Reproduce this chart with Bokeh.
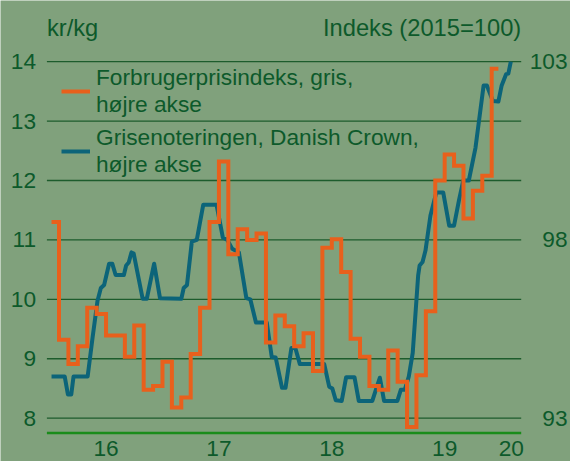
from bokeh.plotting import figure
from bokeh.models import Range1d, Label, Legend, LegendItem
from bokeh.embed import file_html
from bokeh.resources import INLINE

# ---------------- data ----------------
# Forbrugerprisindeks, gris (2015=100), monthly, Jan 2016 - Dec 2019 (right axis)
cpi_months = [f"{y}-{m:02d}" for y in (2016, 2017, 2018, 2019) for m in range(1, 13)]
cpi_index = [98.50, 95.20, 94.52, 95.02, 96.10, 95.92, 95.32, 95.32, 94.72, 95.60, 93.80, 93.90,
             94.58, 93.30, 93.58, 94.80, 96.10, 98.50, 100.20, 97.60, 98.30, 98.00, 98.18, 95.12,
             95.88, 95.58, 95.02, 95.38, 94.32, 97.78, 98.02, 97.10, 95.23, 94.72, 93.90, 93.80,
             94.90, 94.02, 92.75, 94.20, 96.00, 99.67, 100.40, 100.08, 98.60, 99.38, 99.80, 102.80]
cpi_first_obs = 2016.017
cpi_last_obs = 2019.976

# Grisenoteringen, Danish Crown (kr/kg), decimal year / value (left axis)
dc_year = [2016.017, 2016.134, 2016.162, 2016.192, 2016.212, 2016.337, 2016.381, 2016.424, 2016.454, 2016.483,
           2016.527, 2016.555, 2016.585, 2016.658, 2016.678, 2016.701, 2016.725, 2016.745, 2016.789, 2016.824,
           2016.861, 2016.926, 2016.978, 2017.167, 2017.188, 2017.217, 2017.260, 2017.304, 2017.361, 2017.479,
           2017.535, 2017.575, 2017.618, 2017.677, 2017.743, 2017.778, 2017.828, 2017.924, 2017.968, 2018.003,
           2018.059, 2018.090, 2018.142, 2018.177, 2018.217, 2018.433, 2018.477, 2018.505, 2018.535, 2018.588,
           2018.627, 2018.701, 2018.739, 2018.859, 2018.891, 2018.926, 2018.963, 2019.081, 2019.112, 2019.147,
           2019.182, 2019.217, 2019.243, 2019.265, 2019.278, 2019.304, 2019.330, 2019.374, 2019.426, 2019.487,
           2019.540, 2019.583, 2019.627, 2019.665, 2019.714, 2019.773, 2019.845, 2019.874, 2019.927, 2019.976,
           2020.005, 2020.044, 2020.064, 2020.086]
dc_kr = [8.70, 8.70, 8.40, 8.40, 8.70, 8.70, 9.36, 9.97, 10.19, 10.24,
         10.60, 10.60, 10.41, 10.41, 10.57, 10.62, 10.79, 10.77, 10.35, 10.01,
         10.01, 10.60, 10.02, 10.01, 10.19, 10.24, 10.97, 11.00, 11.59, 11.59,
         11.04, 11.00, 10.85, 10.79, 10.02, 10.00, 9.61, 9.61, 9.03, 9.02,
         8.51, 8.51, 9.18, 9.18, 8.91, 8.91, 8.53, 8.50, 8.30, 8.29,
         8.69, 8.69, 8.29, 8.29, 8.48, 8.68, 8.29, 8.29, 8.48, 8.48,
         8.70, 9.10, 9.80, 10.40, 10.57, 10.63, 10.82, 11.41, 11.80, 11.80,
         11.24, 11.24, 11.67, 12.00, 12.00, 12.55, 13.60, 13.60, 13.34, 13.33,
         13.60, 13.79, 13.80, 14.00]

left_ticks = [8, 9, 10, 11, 12, 13, 14]
right_ticks = [93, 98, 103]
year_label_pos = [2016.5, 2017.5, 2018.5, 2019.5, 2020.09]
year_labels = ["16", "17", "18", "19", "20"]

series_names = ["Forbrugerprisindeks, gris,\nhøjre akse",
                "Grisenoteringen, Danish Crown,\nhøjre akse"]

# ---------------- style / layout ----------------
BG = "#80a17c"
TXT = "#0d5a2b"
GRID = "#1d5c2c"
BASE = "#1a8c1a"
ORANGE = "#e8601c"
BLUE = "#0c6479"
FONT = "Liberation Sans"

W, H = 570, 461
PL, PR, PT, PB = 46.4, 520.7, 61.2, 432.5     # plot area in canvas pixels
X0, X1 = 2015.976, 2020.178                    # visible time span
Y0, Y1 = 7.75, 14.0                            # left axis span


def to_index(v):
    # left axis 8 -> 93, 14 -> 103
    return 93 + (v - 8) * 10 / 6


xs = (X1 - X0) / (PR - PL)
ys = (Y1 - Y0) / (PB - PT)
x_start, x_end = X0 - PL * xs, X1 + (W - PR) * xs
y_start, y_end = Y0 - (H - PB) * ys, Y1 + PT * ys

p = figure(width=W, height=H, x_range=Range1d(x_start, x_end), y_range=Range1d(y_start, y_end),
           x_axis_type=None, y_axis_type=None,
           output_backend="svg", toolbar_location=None, min_border=0,
           background_fill_color=BG, border_fill_color=BG, outline_line_color=None)
p.extra_y_ranges = {"idx": Range1d(to_index(y_start), to_index(y_end))}

# horizontal grid lines at the left-axis ticks, spanning the plot area only
p.segment(x0=[X0] * len(left_ticks), x1=[X1] * len(left_ticks), y0=left_ticks, y1=left_ticks,
          line_color=GRID, line_width=1.3)
p.segment(x0=[X0], x1=[X1], y0=[Y0], y1=[Y0], line_color=BASE, line_width=2.5)

# series
cpi_x = []
for s in cpi_months:
    yy, mm = int(s[:4]), int(s[5:])
    cpi_x.append(max(cpi_first_obs, yy + (mm - 1) / 12))
cpi_x = cpi_x + [cpi_last_obs]
cpi_y = cpi_index + [cpi_index[-1]]

r_blue = p.line(dc_year, dc_kr, line_color=BLUE, line_width=4, line_join="round")
r_orange = p.step(cpi_x, cpi_y, mode="after", y_range_name="idx",
                  line_color=ORANGE, line_width=4, line_join="miter")

TICK_FS = "22.7px"
TITLE_FS = "23.7px"

# left tick labels
for v in left_ticks:
    p.add_layout(Label(x=X0, x_offset=-10.8, y=v, text=str(v), text_align="right",
                       text_baseline="middle", text_font=FONT, text_font_size=TICK_FS,
                       text_color=TXT))
# right tick labels
for v in right_ticks:
    p.add_layout(Label(x=X1, x_offset=46.3, y=v, y_range_name="idx", text=str(v),
                       text_align="right", text_baseline="middle", text_font=FONT,
                       text_font_size=TICK_FS, text_color=TXT))
# x tick labels
for t, s in zip(year_label_pos, year_labels):
    p.add_layout(Label(x=t, y=Y0, y_offset=-15.5, text=s, text_align="center",
                       text_baseline="middle", text_font=FONT, text_font_size=TICK_FS,
                       text_color=TXT))

# axis titles
p.add_layout(Label(x=X0, y=Y1, y_offset=33.4, text="kr/kg", text_align="left",
                   text_baseline="middle", text_font=FONT, text_font_size=TITLE_FS,
                   text_color=TXT))
p.add_layout(Label(x=X1, y=Y1, y_offset=33.4, text="Indeks (2015=100)", text_align="right",
                   text_baseline="middle", text_font=FONT, text_font_size=TITLE_FS,
                   text_color=TXT))

legend = Legend(items=[LegendItem(label=series_names[0], renderers=[r_orange]),
                       LegendItem(label=series_names[1], renderers=[r_blue])],
                location=(61, 283), padding=0, margin=0, spacing=6,
                glyph_width=29, glyph_height=20, label_standoff=6,
                background_fill_alpha=0, border_line_color=None,
                label_text_font=FONT, label_text_font_size=TICK_FS, label_text_color=TXT,
                label_text_line_height=1.14)
p.add_layout(legend)

open("out.html", "w").write(file_html(p, INLINE))
